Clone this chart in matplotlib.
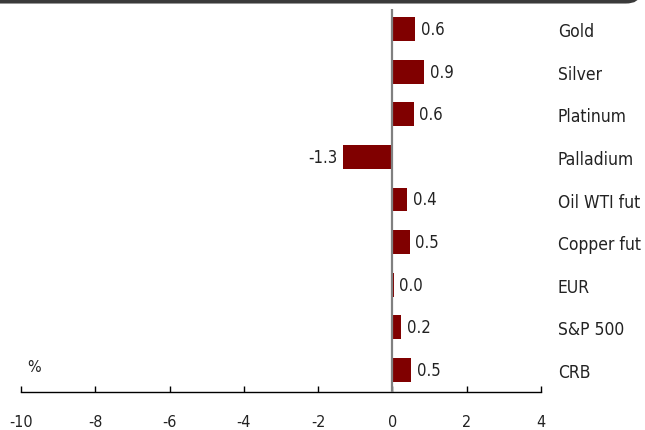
import matplotlib
matplotlib.use("Agg")
import matplotlib.pyplot as plt
from matplotlib.patches import FancyBboxPatch

plt.rcParams["font.family"] = ["DejaVu Sans"]
plt.rcParams["font.stretch"] = "condensed"

# Datos (cambio diario, %)
categorias = ["Gold", "Silver", "Platinum", "Palladium", "Oil WTI fut",
              "Copper fut", "EUR", "S&P 500", "CRB"]
valores = [0.62, 0.86, 0.57, -1.32, 0.40, 0.46, 0.04, 0.24, 0.51]
xticks = [-10, -8, -6, -4, -2, 0, 2, 4]

ROJO = "#800000"
TEXTO = "#222222"

fig = plt.figure(figsize=(6.45, 4.31), dpi=100)
ax = fig.add_axes([21 / 645, 38 / 431, 520 / 645, 383 / 431])

pos = list(range(len(categorias)))
ax.barh(pos, valores, height=0.56, color=ROJO, zorder=2)
ax.axvline(0, color="#808080", linewidth=1.6, zorder=3)

for y, v in zip(pos, valores):
    if v >= 0:
        ax.text(v + 0.15, y, f"{v:.1f}", va="center", ha="left", fontsize=12, color=TEXTO)
    else:
        ax.text(v - 0.15, y, f"{v:.1f}", va="center", ha="right", fontsize=12, color=TEXTO)
    ax.text(4.45, y + 0.05, categorias[y], va="center", ha="left", fontsize=12.5,
            color=TEXTO, clip_on=False)

ax.text(-9.65, 7.93, "%", fontsize=11.5, color=TEXTO, va="center", ha="center")

ax.set_xlim(-10, 4)
ax.set_ylim(8.52, -0.47)
ax.set_xticks(xticks)
ax.set_xticklabels([str(t) for t in xticks], fontsize=11.5, color=TEXTO)
ax.set_yticks([])
for s in ["top", "right", "left"]:
    ax.spines[s].set_visible(False)
ax.spines["bottom"].set_linewidth(1.0)
ax.tick_params(axis="x", direction="in", length=4.5, width=1, pad=16)

# Marco superior con esquina redondeada
marco = FancyBboxPatch((-0.05, 0.994), 1.04, 0.3, boxstyle="round,pad=0,rounding_size=0.02",
                       transform=fig.transFigure, facecolor="none",
                       edgecolor="#3a3a3a", linewidth=2.8, clip_on=False)
fig.patches.append(marco)

fig.savefig("out.png", dpi=100)
